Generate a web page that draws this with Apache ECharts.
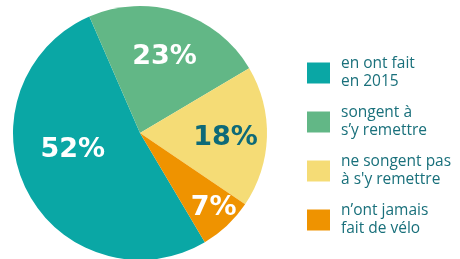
<!DOCTYPE html>
<html><head><meta charset="utf-8">
<script src="https://cdn.jsdelivr.net/npm/echarts@6/dist/echarts.min.js"></script>
<style>html,body{margin:0;padding:0;background:#fff}#c{width:460px;height:259px}</style>
</head><body><div id="c"></div>
<script>
const categories = ["en ont fait\nen 2015", "songent à\ns’y remettre", "ne songent pas\nà s'y remettre", "n’ont jamais\nfait de vélo"];
const values = [52, 23, 18, 7];
const colors = ["#0aa7a5", "#62b786", "#f5dc76", "#ef9300"];
const labelColors = ["#ffffff", "#ffffff", "#0d6a78", "#ffffff"];
const labelShift = [[-8, -13], [4, -13], [19, 3], [28, 27]];

const chart = echarts.init(document.getElementById('c'), null, {renderer: 'canvas'});
chart.setOption({
  animation: false,
  color: colors,
  legend: {
    orient: 'vertical', left: 302, top: 50,
    itemWidth: 23, itemHeight: 21, itemGap: 13,
    icon: 'rect',
    data: categories,
    textStyle: {fontFamily: 'Open Sans', fontSize: 15.5, fontWeight: 500, color: '#19707b', lineHeight: 18, padding: [0,0,0,6]}
  },
  series: [{
    type: 'pie',
    center: [140, 133],
    radius: [0, 127],
    startAngle: -59.3,
    clockwise: true,
    label: {show: true, position: 'inner', fontFamily: 'DejaVu Sans', fontWeight: 'bold', fontSize: 27,
      formatter: p => p.value + '%'},
    labelLine: {show: false},
    emphasis: {disabled: true},
    labelLayout: p => ({dx: labelShift[p.dataIndex][0], dy: labelShift[p.dataIndex][1]}),
    data: categories.map((n, i) => ({name: n, value: values[i], label: {color: labelColors[i]}}))
  }]
});
</script></body></html>
